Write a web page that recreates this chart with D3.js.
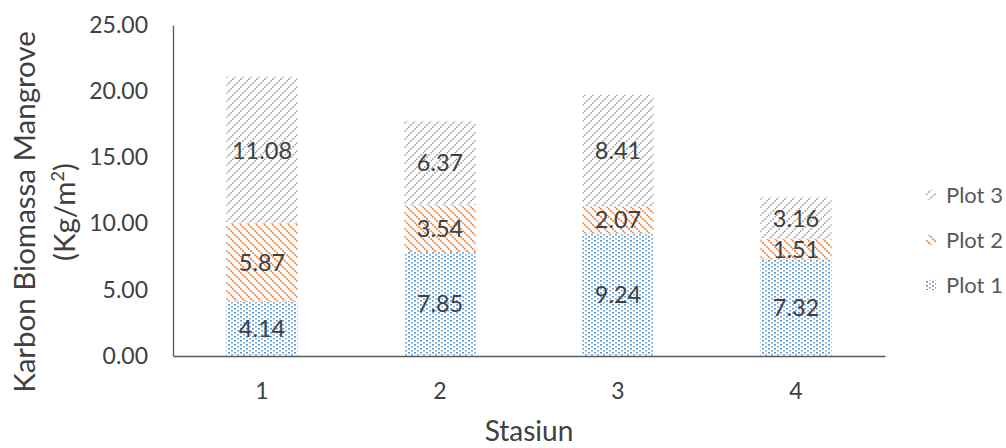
<!DOCTYPE html>
<html>
<head>
<meta charset="utf-8">
<script src="https://cdn.jsdelivr.net/npm/d3@7"></script>
<style>
  html, body { margin: 0; padding: 0; background: #fff; }
  svg { display: block; font-family: Lato, "Open Sans", sans-serif; }
</style>
</head>
<body>
<svg id="chart" width="1006" height="448"></svg>
<script>
// Carbon biomass per station, stacked by plot
const stations = ["1", "2", "3", "4"];
const seriesNames = ["Plot 1", "Plot 2", "Plot 3"];
const plot1 = [4.14, 7.85, 9.24, 7.32];
const plot2 = [5.87, 3.54, 2.07, 1.51];
const plot3 = [11.08, 6.37, 8.41, 3.16];
const yTicks = [0, 5, 10, 15, 20, 25];

const svg = d3.select("#chart");
const margin = { left: 173, right: 1006 - 885, top: 25, bottom: 448 - 356 };
const W = 1006, H = 448;

const x = d3.scaleBand().domain(stations).range([margin.left, W - margin.right]).paddingInner(0.6).paddingOuter(0.3);
const y = d3.scaleLinear().domain([0, 25]).range([H - margin.bottom, margin.top]);

// Fill patterns for the three plots
const defs = svg.append("defs");
const p3 = defs.append("pattern").attr("id", "pat3").attr("patternUnits", "userSpaceOnUse")
  .attr("width", 8).attr("height", 8);
p3.append("path").attr("d", "M-2,2 L2,-2 M0,8 L8,0 M6,10 L10,6")
  .attr("stroke", "#a5a5a5").attr("stroke-width", 1.6).attr("stroke-dasharray", "2,1.2");

const p2 = defs.append("pattern").attr("id", "pat2").attr("patternUnits", "userSpaceOnUse")
  .attr("width", 8).attr("height", 8);
p2.append("path").attr("d", "M-2,6 L2,10 M0,0 L8,8 M6,-2 L10,2")
  .attr("stroke", "#f08a45").attr("stroke-width", 1.8).attr("stroke-dasharray", "2.2,0.9");

const p1 = defs.append("pattern").attr("id", "pat1").attr("patternUnits", "userSpaceOnUse")
  .attr("width", 6).attr("height", 4);
p1.append("rect").attr("width", 6).attr("height", 4).attr("fill", "#fff");
p1.append("rect").attr("x", 0).attr("y", 0).attr("width", 2).attr("height", 1.6).attr("fill", "#5b9bd5");
p1.append("rect").attr("x", 3).attr("y", 2).attr("width", 2).attr("height", 1.6).attr("fill", "#7fb0df");

const fills = ["url(#pat1)", "url(#pat2)", "url(#pat3)"];

const rows = stations.map((s, i) => ({ station: s, "Plot 1": plot1[i], "Plot 2": plot2[i], "Plot 3": plot3[i] }));
const stacked = d3.stack().keys(seriesNames)(rows);

const layers = svg.append("g").selectAll("g").data(stacked).join("g")
  .attr("fill", (d, i) => fills[i]);

layers.selectAll("rect").data(d => d).join("rect")
  .attr("x", d => x(d.data.station))
  .attr("width", x.bandwidth())
  .attr("y", d => y(d[1]))
  .attr("height", d => y(d[0]) - y(d[1]));

// Value labels centred in each segment
layers.selectAll("text").data((d) => d.map(v => ({ v, key: d.key }))).join("text")
  .attr("x", d => x(d.v.data.station) + x.bandwidth() / 2)
  .attr("y", d => (y(d.v[0]) + y(d.v[1])) / 2)
  .attr("dy", "0.36em")
  .attr("text-anchor", "middle")
  .attr("fill", "#404040")
  .attr("font-size", 23.5)
  .text(d => d.v.data[d.key].toFixed(2));

// Axes
const yAxis = d3.axisLeft(y).tickValues(yTicks).tickSize(0).tickPadding(25).tickFormat(d3.format(".2f"));
const gy = svg.append("g").attr("transform", `translate(${margin.left},0)`).call(yAxis);
gy.select(".domain").attr("stroke", "#595959").attr("stroke-width", 1.3);
gy.selectAll("text").attr("font-size", 23).attr("fill", "#404040").attr("font-family", "Lato, sans-serif");

const xAxis = d3.axisBottom(x).tickSize(0).tickPadding(27);
const gx = svg.append("g").attr("transform", `translate(0,${H - margin.bottom})`).call(xAxis);
gx.select(".domain").attr("stroke", "#595959").attr("stroke-width", 1.6);
gx.selectAll("text").attr("font-size", 23).attr("fill", "#404040").attr("font-family", "Lato, sans-serif");

// Axis titles
svg.append("text")
  .attr("x", (margin.left + W - margin.right) / 2).attr("y", 441)
  .attr("text-anchor", "middle").attr("font-size", 28).attr("fill", "#404040")
  .text("Stasiun");

const yt = svg.append("text")
  .attr("transform", "translate(35,212) rotate(-90)")
  .attr("text-anchor", "middle").attr("font-size", 29.5).attr("fill", "#404040");
yt.append("tspan").attr("x", 0).attr("y", 0).text("Karbon Biomassa Mangrove");
const l2 = yt.append("tspan").attr("x", 0).attr("y", 40);
l2.append("tspan").text("(Kg/m");
l2.append("tspan").attr("font-size", 18).attr("dy", -11).text("2");
l2.append("tspan").attr("dy", 11).text(")");

// Legend, top entry is the top of the stack
const legendItems = seriesNames.slice().reverse();
const lg = svg.append("g").selectAll("g").data(legendItems).join("g")
  .attr("transform", (d, i) => `translate(926,${195 + i * 45})`);
lg.append("rect").attr("x", 0).attr("y", -5).attr("width", 10).attr("height", 10)
  .attr("fill", d => fills[seriesNames.indexOf(d)]);
lg.append("text").attr("x", 20).attr("dy", "0.36em").attr("font-size", 22).attr("fill", "#595959")
  .text(d => d);
</script>
</body>
</html>
